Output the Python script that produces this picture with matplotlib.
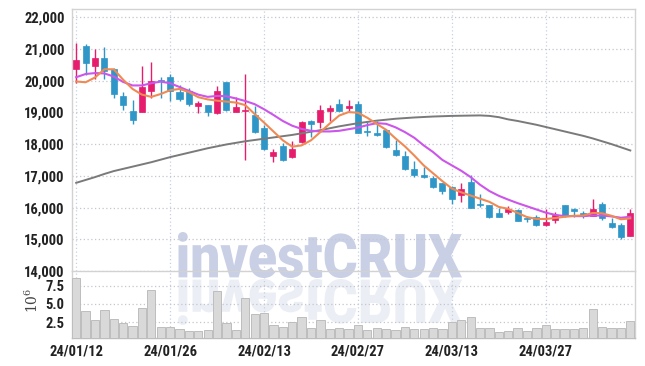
import matplotlib
matplotlib.use("Agg")
import matplotlib.pyplot as plt
import numpy as np
from matplotlib.textpath import TextPath
from matplotlib.patches import PathPatch
from matplotlib.font_manager import FontProperties
from matplotlib.transforms import Affine2D, IdentityTransform

DATES = [
	"24/01/12", "24/01/15", "24/01/16", "24/01/17", "24/01/18", "24/01/19", "24/01/22", "24/01/23", "24/01/24", "24/01/25",
	"24/01/26", "24/01/29", "24/01/30", "24/01/31", "24/02/01", "24/02/02", "24/02/05", "24/02/06", "24/02/07", "24/02/08",
	"24/02/13", "24/02/14", "24/02/15", "24/02/16", "24/02/19", "24/02/20", "24/02/21", "24/02/22", "24/02/23", "24/02/26",
	"24/02/27", "24/02/28", "24/02/29", "24/03/04", "24/03/05", "24/03/06", "24/03/07", "24/03/08", "24/03/11", "24/03/12",
	"24/03/13", "24/03/14", "24/03/15", "24/03/18", "24/03/19", "24/03/20", "24/03/21", "24/03/22", "24/03/25", "24/03/26",
	"24/03/27", "24/03/28", "24/03/29", "24/04/01", "24/04/02", "24/04/03", "24/04/04", "24/04/05", "24/04/08", "24/04/09",
]
TICK_EVERY = 10

OPEN = [20370, 21100, 20450, 20710, 20370, 19530, 19030, 19010, 19690, 20000,
	20120, 19650, 19680, 19190, 19240, 18980, 19970, 19020, 19060, 18930,
	18510, 17620, 17950, 17580, 18060, 18720, 18690, 19060, 19270, 19140,
	19270, 18420, 18350, 18460, 17830, 17610, 17230, 17040, 16920, 16780,
	16650, 16390, 16810, 16120, 16080, 15820, 15850, 15930, 15660, 15710,
	15450, 15600, 16070, 15950, 15840, 15730, 16120, 15500, 15440, 15100]
HIGH = [21180, 21160, 20990, 21060, 20400, 19650, 19400, 20470, 20590, 20130,
	20220, 19860, 19760, 19370, 19240, 19840, 19970, 19500, 20220, 19190,
	18610, 17850, 18040, 18100, 18720, 18770, 19230, 19230, 19420, 19380,
	19350, 18690, 18720, 18470, 18140, 17770, 17480, 17280, 16990, 16790,
	16670, 16760, 17040, 16440, 16080, 15990, 16040, 15940, 15730, 15750,
	15940, 15860, 16090, 15990, 15900, 16280, 16170, 15680, 15520, 15970]
LOW = [19930, 20190, 20050, 20050, 19450, 19090, 18640, 19000, 19450, 19450,
	19370, 19350, 19210, 18980, 18900, 18960, 19050, 19020, 17510, 18350,
	17830, 17450, 17460, 17560, 18050, 18230, 18510, 18720, 19060, 19060,
	18350, 18250, 18250, 17880, 17640, 17170, 16970, 16920, 16610, 16430,
	16100, 16180, 15990, 16030, 15680, 15690, 15810, 15570, 15550, 15410,
	15410, 15500, 15700, 15700, 15680, 15720, 15600, 15360, 15020, 15100]
CLOSE = [20660, 20570, 20710, 20290, 19580, 19220, 18750, 19800, 20000, 19980,
	19660, 19430, 19270, 19310, 19020, 19680, 19090, 19180, 19090, 18370,
	17850, 17760, 17490, 17850, 18710, 18640, 19090, 19130, 19060, 19190,
	18350, 18370, 18280, 17900, 17670, 17200, 17020, 16960, 16640, 16520,
	16260, 16600, 15990, 16080, 15700, 15700, 15940, 15570, 15630, 15450,
	15530, 15760, 15730, 15890, 15730, 15960, 15680, 15400, 15070, 15840]

# moving averages
MA_SHORT = [19975, 19950, 20100, 20360, 20360, 20030, 19740, 19560, 19490, 19580,
	19700, 19740, 19640, 19480, 19410, 19370, 19340, 19310, 19230, 18950,
	18680, 18400, 18120, 17920, 17960, 18120, 18380, 18650, 18900, 19010,
	18990, 18830, 18640, 18450, 18180, 17930, 17640, 17330, 17080, 16830,
	16600, 16480, 16380, 16280, 16180, 16020, 15960, 15830, 15700, 15640,
	15640, 15670, 15710, 15740, 15750, 15830, 15820, 15740, 15630, 15660]
MA_MID = [20110, 20210, 20240, 20230, 20130, 19960, 19850, 19850, 19920, 19970,
	19920, 19800, 19680, 19560, 19490, 19520, 19510, 19440, 19360, 19260,
	19100, 18920, 18730, 18580, 18480, 18420, 18400, 18400, 18420, 18470,
	18520, 18600, 18660, 18640, 18530, 18380, 18200, 17960, 17750, 17500,
	17330, 17160, 16960, 16720, 16520, 16370, 16250, 16140, 16040, 15940,
	15840, 15770, 15730, 15730, 15730, 15750, 15750, 15720, 15680, 15710]
MA_LONG = [16780, 16870, 16960, 17060, 17150, 17220, 17290, 17360, 17430, 17510,
	17590, 17660, 17730, 17800, 17870, 17930, 17990, 18040, 18090, 18130,
	18170, 18210, 18250, 18290, 18340, 18390, 18440, 18500, 18560, 18610,
	18660, 18700, 18740, 18770, 18800, 18820, 18840, 18855, 18870, 18880,
	18890, 18895, 18900, 18905, 18890, 18850, 18780, 18730, 18670, 18610,
	18540, 18470, 18400, 18330, 18260, 18180, 18090, 18000, 17900, 17800]

# volume, millions of shares
VOLUME = [8.5, 4.0, 2.8, 4.2, 2.9, 2.4, 1.95, 4.5, 6.85, 1.9,
	1.9, 1.55, 1.35, 1.25, 1.4, 6.7, 2.35, 1.4, 5.75, 3.6,
	3.75, 2.1, 1.8, 2.5, 3.15, 1.7, 2.75, 1.5, 1.75, 1.5,
	2.1, 1.4, 1.75, 1.5, 1.4, 1.9, 1.5, 1.5, 1.65, 1.5,
	2.5, 2.85, 3.15, 1.75, 1.75, 1.15, 1.25, 1.65, 1.25, 1.75,
	2.05, 1.5, 1.5, 1.5, 1.65, 4.25, 1.9, 1.65, 1.75, 2.6]

PRICE_TICKS = list(range(14000, 23000, 1000))
VOLUME_TICKS = [2.5, 5.0, 7.5]

UP_COLOR = "#e61c6c"
DOWN_COLOR = "#2f96c8"
TICK_FONT = ["Roboto Condensed", "IBM Plex Sans Condensed", "Liberation Sans Narrow", "DejaVu Sans"]
W, H = 645, 366

fig = plt.figure(figsize=(W / 100, H / 100), dpi=100)
fig.patch.set_facecolor("white")

# watermark (drawn behind transparent axes)
fp = FontProperties(family=["Roboto", "DejaVu Sans"], weight="black")
path = TextPath((0, 0), "investCRUX", size=100, prop=fp)
ext = path.get_extents()
sx = 284 / ext.width
sy = 46 / ext.height
base = Affine2D().translate(-ext.x0, -ext.y0)
main_tr = base + Affine2D().scale(sx, sy).translate(178, H - 278)
refl_tr = base + Affine2D().scale(sx, -sy).translate(178, H - 279)
fig.add_artist(PathPatch(main_tr.transform_path(path), facecolor="#c9d0e5", edgecolor="none",
	transform=IdentityTransform(), zorder=-2))
fig.add_artist(PathPatch(refl_tr.transform_path(path), facecolor="#c9d0e5", edgecolor="none",
	alpha=0.35, transform=IdentityTransform(), zorder=-2))

left, right = 71.5, 635
ax = fig.add_axes([left / W, 1 - 271 / H, (right - left) / W, (271 - 9) / H])
axv = fig.add_axes([left / W, 1 - 337.5 / H, (right - left) / W, (337.5 - 271) / H], sharex=ax)
for a in (ax, axv):
	a.set_facecolor("none")
	for s in a.spines.values():
		s.set_color("#d2d2d2")
		s.set_linewidth(1.0)
	a.tick_params(length=0, labelsize=10.5, colors="#222222", pad=5)
axv.spines["top"].set_visible(False)
axv.spines["bottom"].set_color("#bdbdbd")

x = np.arange(len(DATES))
o = np.array(OPEN)
c = np.array(CLOSE)
up = c >= o
colors = np.where(up, UP_COLOR, DOWN_COLOR)

# candles
ax.vlines(x, LOW, HIGH, colors=colors, linewidth=1.0, zorder=3)
body_low = np.minimum(o, c)
body_h = np.maximum(np.abs(c - o), 30)
ax.bar(x, body_h, bottom=body_low, width=0.64, color=colors, edgecolor=colors, linewidth=0.5, zorder=4)

# moving averages
ax.plot(x, MA_LONG, color="#7a7a7a", lw=1.4, zorder=5)
ax.plot(x, MA_MID, color="#cc55ea", lw=1.5, zorder=5)
ax.plot(x, MA_SHORT, color="#ef8a55", lw=1.5, zorder=5)

ax.set_ylim(14000, 22260)
ax.set_yticks(PRICE_TICKS)
ax.set_yticklabels([f"{v:,}" for v in PRICE_TICKS], fontfamily=TICK_FONT, fontweight="bold")

# volume
axv.bar(x, VOLUME, width=0.88, color="#d9d9d9", edgecolor="#bdbdbd", linewidth=0.7, zorder=3)
axv.set_ylim(0.4, 9.5)
axv.set_yticks(VOLUME_TICKS)
axv.set_yticklabels([f"{v:.1f}" for v in VOLUME_TICKS], fontfamily=TICK_FONT, fontweight="bold")

ticks = x[::TICK_EVERY]
ax.set_xlim(-0.5, len(DATES) - 0.5)
axv.set_xticks(ticks)
axv.set_xticklabels([DATES[i] for i in ticks], fontfamily=TICK_FONT, fontweight="bold")
plt.setp(ax.get_xticklabels(), visible=False)

for a in (ax, axv):
	a.grid(axis="y", linestyle=(0, (1, 2)), color="#c4c6d0", linewidth=0.9, zorder=0)
	a.grid(axis="x", linestyle=(0, (1, 2)), color="#c6d0e2", linewidth=0.9, zorder=0)
	a.set_axisbelow(True)

plt.rcParams["mathtext.fontset"] = "dejavuserif"
fig.text(32 / W, 1 - 300 / H, r"$10^6$", rotation=90, ha="center", va="center", fontsize=10, color="#444444")

fig.savefig("out.png", dpi=100)
